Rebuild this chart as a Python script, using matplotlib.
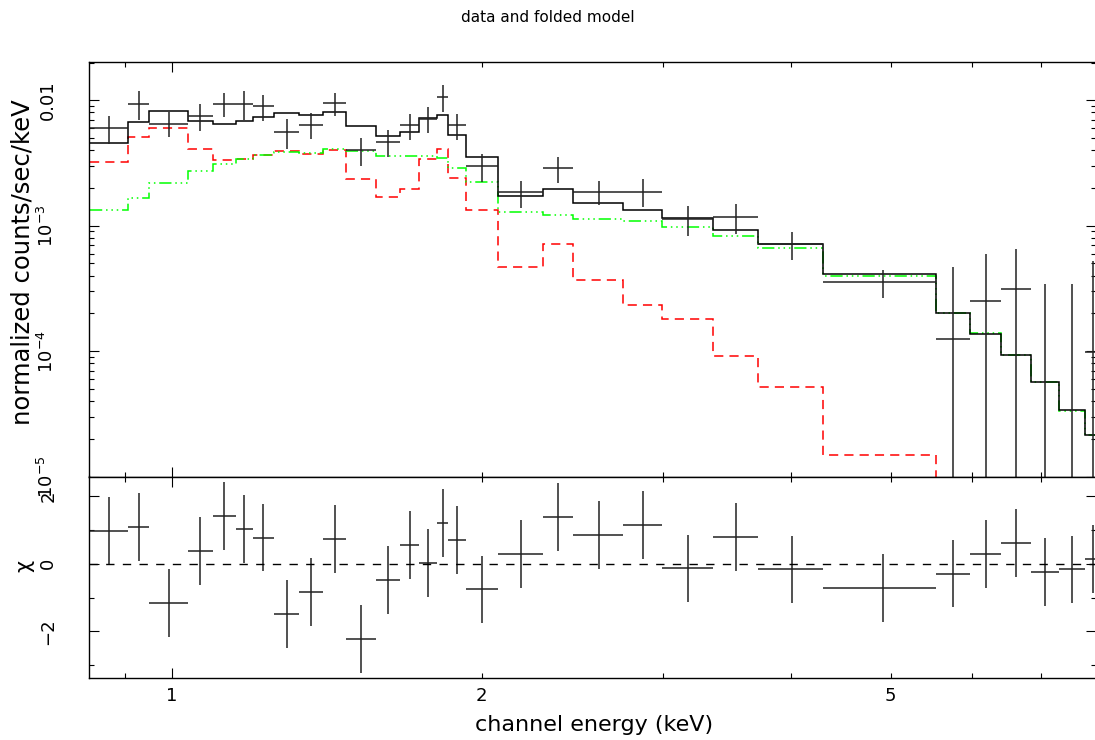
import numpy as np
import matplotlib
matplotlib.use("Agg")
import matplotlib.pyplot as plt
from matplotlib.ticker import FixedLocator, FuncFormatter, NullFormatter

# grouped channel edges (keV)
edges = [0.832, 0.906, 0.949, 1.036, 1.095, 1.153, 1.198, 1.256, 1.329, 1.402,
         1.476, 1.578, 1.665, 1.739, 1.812, 1.856, 1.931, 2.074, 2.294, 2.454,
         2.747, 2.995, 3.361, 3.712, 4.298, 5.534, 5.970, 6.404, 6.842, 7.293,
         7.730, 7.99]

# data (normalized counts/sec/keV) and 1-sigma errors
rate = [6.0e-3, 9.4e-3, 6.53e-3, 7.50e-3, 9.4e-3, 9.4e-3, 8.93e-3, 5.62e-3, 6.41e-3, 9.43e-3,
        4.02e-3, 4.69e-3, 6.30e-3, 7.15e-3, 1.062e-2, 6.30e-3, 2.98e-3, 1.84e-3, 2.88e-3, 1.87e-3,
        1.87e-3, 1.13e-3, 1.17e-3, 7.11e-4, 3.54e-4, 1.24e-4, 2.49e-4, 3.11e-4, -3.5e-5, -3.0e-5,
        9.75e-5]
rate_err = [1.5e-3, 2.45e-3, 1.48e-3, 1.8e-3, 2.1e-3, 2.4e-3, 2.1e-3, 1.5e-3, 1.53e-3, 1.9e-3,
            1.01e-3, 1.15e-3, 1.45e-3, 1.66e-3, 2.6e-3, 1.5e-3, 7.6e-4, 4.5e-4, 6.8e-4, 4.2e-4,
            4.7e-4, 3.0e-4, 3.1e-4, 1.8e-4, 9.0e-5, 3.47e-4, 3.42e-4, 3.38e-4, 3.76e-4, 3.71e-4,
            4.27e-4]

# folded model: total, component 1 (red), component 2 (green)
model_total = [4.56e-3, 6.72e-3, 8.26e-3, 6.84e-3, 6.47e-3, 6.88e-3, 7.33e-3, 7.85e-3, 7.68e-3, 8.02e-3,
               6.27e-3, 5.22e-3, 5.56e-3, 7.16e-3, 7.57e-3, 5.24e-3, 3.56e-3, 1.73e-3, 1.95e-3, 1.52e-3,
               1.33e-3, 1.15e-3, 9.25e-4, 7.21e-4, 4.12e-4, 2.01e-4, 1.38e-4, 9.23e-5, 5.71e-5, 3.37e-5,
               2.16e-5]
model_comp1 = [3.21e-3, 5.07e-3, 6.05e-3, 4.06e-3, 3.34e-3, 3.42e-3, 3.66e-3, 3.96e-3, 3.75e-3, 3.99e-3,
               2.37e-3, 1.69e-3, 1.96e-3, 3.43e-3, 4.11e-3, 2.42e-3, 1.33e-3, 4.65e-4, 7.15e-4, 3.69e-4,
               2.33e-4, 1.79e-4, 9.19e-5, 5.20e-5, 1.48e-5, 1e-6, 1e-6, 1e-6, 1e-6, 1e-6,
               1e-6]
model_comp2 = [1.33e-3, 1.65e-3, 2.18e-3, 2.75e-3, 3.10e-3, 3.42e-3, 3.66e-3, 3.89e-3, 3.82e-3, 4.06e-3,
               3.96e-3, 3.60e-3, 3.60e-3, 3.60e-3, 3.48e-3, 2.87e-3, 2.23e-3, 1.28e-3, 1.22e-3, 1.13e-3,
               1.10e-3, 9.71e-4, 8.35e-4, 6.68e-4, 3.94e-4, 2.00e-4, 1.39e-4, 9.27e-5, 5.71e-5, 3.35e-5,
               2.15e-5]

# residuals (chi)
chi = [0.96, 1.09, -1.17, 0.37, 1.40, 1.03, 0.77, -1.49, -0.83, 0.74,
       -2.23, -0.47, 0.54, 0.02, 1.21, 0.71, -0.76, 0.29, 1.38, 0.84,
       1.15, -0.14, 0.78, -0.17, -0.71, -0.29, 0.28, 0.60, -0.24, -0.17,
       0.13]

edges = np.array(edges)
rate = np.array(rate)
rate_err = np.array(rate_err)
chi = np.array(chi)
lo = edges[:-1]
hi = edges[1:]
mid = (lo + hi) / 2

W, H = 1095, 740
fig = plt.figure(figsize=(W / 100, H / 100), dpi=100)
left = 89.3 / W
width = (1095.5 - 89.3) / W
ax1 = fig.add_axes([left, 1 - 476.5 / H, width, (476.5 - 62) / H])
ax2 = fig.add_axes([left, 1 - 678.3 / H, width, (678.3 - 476.5) / H])

lw = 1.1

# upper panel
ax1.set_xscale('log')
ax1.set_yscale('log')
ax1.stairs(model_comp1, edges, baseline=None, color='#ff0000', lw=lw, linestyle=(0, (6, 4)))
ax1.stairs(model_comp2, edges, baseline=None, color='#00ff00', lw=lw,
           linestyle=(0, (8, 2.5, 1, 2.5, 1, 2.5, 1, 2.5)))
ax1.stairs(model_total, edges, baseline=None, color='black', lw=lw)

pos = rate > 0
ax1.hlines(rate[pos], lo[pos], hi[pos], color='#222222', lw=lw)
low = np.clip(rate - rate_err, 1e-9, None)
ax1.vlines(mid, low, rate + rate_err, color='#222222', lw=lw)

ax1.set_xlim(0.8307, 7.912)
ax1.set_ylim(1e-5, 0.0202)
ax1.yaxis.set_major_locator(FixedLocator([1e-5, 1e-4, 1e-3, 1e-2]))
ax1.set_yticklabels(['10$^{-5}$', '10$^{-4}$', '10$^{-3}$', '0.01'])
minor_y = [m * 10.0 ** d for d in range(-5, -1) for m in range(2, 10)]
ax1.yaxis.set_minor_locator(FixedLocator(minor_y))
ax1.yaxis.set_minor_formatter(NullFormatter())

# lower panel
ax2.set_xscale('log')
ax2.hlines(chi, lo, hi, color='#222222', lw=lw)
ax2.vlines(mid, chi - 1, chi + 1, color='#222222', lw=lw)
ax2.axhline(0, color='black', lw=1.0, linestyle=(0, (6, 6)))
ax2.set_xlim(0.8307, 7.912)
ax2.set_ylim(-3.381, 2.572)
ax2.yaxis.set_major_locator(FixedLocator([-2, 0, 2]))
ax2.set_yticklabels(['\u22122', '0', '2'])
ax2.yaxis.set_minor_locator(FixedLocator([-3, -1, 1]))

for ax in (ax1, ax2):
    ax.xaxis.set_major_locator(FixedLocator([1]))
    ax.xaxis.set_minor_locator(FixedLocator([0.9, 2, 3, 4, 5, 6, 7]))
    ax.tick_params(which='both', direction='in', top=True, right=True, width=0.8,
                   labelsize=13)
    ax.tick_params(axis='y', which='both', pad=23)
    ax.tick_params(axis='x', which='both', pad=6)
    ax.tick_params(which='major', length=7.5)
    ax.tick_params(which='minor', length=3.8)
    for s in ax.spines.values():
        s.set_linewidth(1.0)
    ax.spines['right'].set_visible(False)
    for t in ax.get_yticklabels():
        t.set_rotation(90)
        t.set_va('center')

ax1.xaxis.set_major_formatter(NullFormatter())
ax1.xaxis.set_minor_formatter(NullFormatter())
ax2.xaxis.set_major_formatter(FuncFormatter(lambda v, p: '%g' % v))
ax2.xaxis.set_minor_formatter(FuncFormatter(lambda v, p: '%g' % v if round(v, 3) in (2, 5) else ''))

fig.text(548 / W, 1 - 18 / H, 'data and folded model', ha='center', va='center', fontsize=11)
fig.text(594 / W, 1 - 725 / H, 'channel energy (keV)', ha='center', va='center', fontsize=16)
fig.text(23 / W, 1 - 262 / H, 'normalized counts/sec/keV', ha='center', va='center',
         rotation=90, fontsize=17.5)
fig.text(24 / W, 1 - 566 / H, '\u03c7', ha='center', va='center', rotation=90, fontsize=15)

fig.savefig('out.png', dpi=100)
